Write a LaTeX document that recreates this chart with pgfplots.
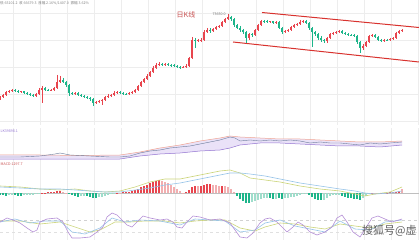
\documentclass[border=0pt]{standalone}
\usepackage{pgfplots}
\pgfplotsset{compat=1.18}
\usepackage{pgfplotstable}
\usepackage{fontspec}
\newfontfamily\cjk{Noto Sans CJK SC}
\definecolor{cred}{HTML}{E8454E}
\definecolor{cgreen}{HTML}{1DB58A}
\definecolor{cpink}{HTML}{F2AEB0}
\definecolor{clgreen}{HTML}{9FDDCB}
\definecolor{cchan}{HTML}{D8322E}
\definecolor{ctitle}{HTML}{C85050}
\definecolor{cyel}{HTML}{CBD47A}
\definecolor{cblue}{HTML}{98C4E8}
\definecolor{cpurp}{HTML}{B48FD6}
\definecolor{cband}{HTML}{EAE2F8}
\definecolor{cbandup}{HTML}{F0A694}
\definecolor{cbandlo}{HTML}{9577D2}
\definecolor{cmid}{HTML}{6F7F9E}

\pgfplotsset{
  panel/.style={scale only axis, width=419pt, xmin=0, xmax=419,
    axis line style={draw=none}, tick style={draw=none},
    xticklabels={}, yticklabels={}, xtick={13,40,...,419},
    grid=major, major grid style={draw=black!7, line width=0.3pt},
    anchor=north west},
  wick/.style={draw=none, mark=none, error bars/.cd, y dir=plus, y explicit,
    error mark=none, error bar style={draw=#1, line width=0.5pt}},
  body/.style={draw=none, mark=none, error bars/.cd, y dir=plus, y explicit,
    error mark=none, error bar style={draw=#1, line width=2pt}},
}

% candles: x open high low close (price given in screen rows, top = 0)
\pgfplotstableread{
x o h l c
0 99 96 100 97
3 97 94 98 95
6 95 91 96 92
9 92 90 93 91
12 91 89 92 90
21 92 91 93 91.5
36 96 93 97 94
39 94 88 95 90
42 90 86 103 88
51 90.5 89 91 90
54 90 87 91 88
57 88 75 89 82
60 82 76 83 80
75 94 92 95 93
96 103 101 104 102
99 102 100 103 101
102 101 99 105 100
105 100 96 101 97
108 97 94 98 96
111 96 94 97 95
114 95 91 96 93
117 93 91 94 92
129 94.5 92 95 93
132 93 91 94 92
135 92 89 93 90
138 90 85 91 86
141 86 81 87 82
144 82 78 83 79
147 79 74 80 76
150 76 71 77 72
153 72 66 73 68
156 68 63 69 65
159 65 62 66 64
165 65 63 66 64
183 67.5 66 68 67
186 67 64 68 66
189 66 57 67 58
192 58 37 59 40
198 41 39 42 40.5
201 40.5 38 42 40
204 40 30 41 32
207 32 28 33 30
213 31 28 32 29
216 29 26 30 27
219 27 25 28 26
222 26 21 27 22
225 22 18 23 19
228 19 14 20 17
249 38 33 40 34
255 35 29 36 30
258 30 24 31 25
261 25 20 26 21
270 22 21 23 21.5
276 23 21 24 22
285 32 30 33 31
288 31 29 32 30
291 30 26 31 27
294 27 24 28 25
297 25 23 26 24
300 24 20 25 22
303 22 20 23 21.5
327 41 37 43 38
330 38 33 39 34
333 34 32 35 33
336 33 31 34 32
339 32 30 33 31
363 48 44 50 46
366 46 41 47 42
369 42 35 43 36
372 36 34 37 35.5
384 41 39 42 40
390 40.5 38 41 39
393 39 37 40 38
396 38 32 39 33
399 33 30 34 31
402 31 29 32 30
}\upcandles

\pgfplotstableread{
x o h l c
15 90 89 92 91
18 91 90 93 92
24 91.5 91 94 93
27 93 92 95 94
30 94 93 96 95
33 95 94 97 96
45 88 87 91 90
48 90 89 91.5 90.5
63 80 78 83 82
66 82 81 87 85
69 85 84 96 93
72 93 92 95 94
78 93 92 96 95
81 95 94 97 96
84 96 95 98 97
87 97 96 99 98
90 98 97 101 99
93 99 98 106 103
120 92 91 94 93
123 93 92 95 94
126 94 93 95.5 94.5
162 64 63 66 65
168 64 63 66 65
171 65 64 67 65.5
174 65.5 64 67 66
177 66 65 68 67
180 67 66 69 67.5
195 40 38 48 41
210 30 28 33 31
231 17 16 21 19
234 19 18 27 25
237 25 24 29 28
240 28 26 32 30
243 30 29 34 32
246 32 31 43 38
252 34 33 37 35
264 21 20 23 21.5
267 21.5 20 23 22
273 21.5 21 24 23
279 22 21 29 28
282 28 27 34 32
306 21.5 20 24 23
309 23 22 30 28
312 28 27 47 32
315 32 31 36 34
318 34 33 40 38
321 38 36 42 40
324 40 39 43 41
342 31 30 34 33
345 33 32 35 34
348 34 33 36 35
351 35 34 36.5 35.5
354 35.5 34 37 36
357 36 35 44 42
360 42 41 53 48
375 35.5 34 38 37
378 37 36 41 40
381 40 39 42 41
387 40 39 41.5 40.5
}\dncandles

% MACD histogram, four kinds of bars
\pgfplotstableread{
x v
42 0.5
45 0.5
48 0.8
51 1
54 1.5
57 2
60 2
117 0.5
123 0.8
126 1
129 1.5
132 2
135 3
138 4.5
141 6
144 7
147 8
150 9.5
153 11
156 12
159 12.5
186 1
189 3
192 6
195 7
201 7
204 8
207 8.5
210 8.5
222 7
372 0.5
381 0.5
387 0.5
390 1
393 1
396 1.5
399 2.5
}\histred
\pgfplotstableread{
x v
63 1.5
66 0.5
120 0.5
162 12
165 11
168 10
171 8
174 6
177 4
180 2
183 0.5
198 7
213 8
216 7.5
219 7
225 6.5
228 6
231 4
234 1
375 0.5
378 0.3
384 0.3
402 4
}\histpink
\pgfplotstableread{
x v
0 -2
3 -2
6 -2.5
15 -2
18 -2.5
21 -2.5
69 -1
72 -2
75 -3
78 -3.5
87 -3
90 -3.5
93 -4.5
96 -4.5
237 -3
240 -6
243 -8
246 -10
249 -10
270 -5
273 -6
279 -5
282 -5.5
309 -2
312 -4
315 -6
318 -7
321 -7
342 -2.5
345 -3.5
348 -4.5
351 -5
354 -5.5
357 -6
360 -6.5
}\histgreen
\pgfplotstableread{
x v
9 -2
12 -2
24 -2
27 -2
30 -1.5
33 -1.5
36 -1
39 -0.5
81 -3
84 -2.5
99 -4
102 -3.5
105 -2.5
108 -1.5
111 -1
114 -0.5
252 -9
255 -8
258 -7
261 -6
264 -5
267 -4.5
276 -5.5
285 -5
288 -4.5
291 -4
294 -3.5
297 -3
300 -2
303 -1
306 -1
324 -6.5
327 -5
330 -3
333 -2
336 -1.5
339 -1.5
363 -5
366 -3
369 -1
}\histlgreen

\begin{document}
\begin{tikzpicture}
\useasboundingbox (0,0) rectangle (419pt,240pt);

% ---------------- main candlestick panel ----------------
\begin{axis}[panel, at={(0pt,240pt)}, height=125pt, ymin=0, ymax=125, y dir=reverse,
  ytick={13,40,67,94,121}]
\addplot[cchan, line width=1pt] coordinates {(262,12.5) (419,27.5)};
\addplot[cchan, line width=1pt] coordinates {(233,42) (419,62)};
\addplot[wick=cred] table[x=x, y=h, y error expr=\thisrow{l}-\thisrow{h}] {\upcandles};
\addplot[wick=cgreen] table[x=x, y=h, y error expr=\thisrow{l}-\thisrow{h}] {\dncandles};
\addplot[body=cred] table[x=x, y=c, y error expr=\thisrow{o}-\thisrow{c}] {\upcandles};
\addplot[body=cgreen] table[x=x, y=o, y error expr=\thisrow{c}-\thisrow{o}] {\dncandles};
\node[text=ctitle, font=\cjk\fontsize{7}{8}\selectfont] at (axis cs:186,15) {日K线};
\node[text=black!55, font=\cjk\fontsize{3.6}{4}\selectfont] at (axis cs:219,14.3) {73650.0};
\node[anchor=west, inner sep=0pt, text=black!50, font=\cjk\fontsize{3.6}{4}\selectfont] at (axis cs:0,3)
  {低 65101.2\ \ 收 66679.3\ \ 涨幅 2.16\%/1407.0\ \ 振幅 3.62\%};
\end{axis}

% ---------------- panel 2 (band indicator) ----------------
\begin{axis}[panel, at={(0pt,112pt)}, height=34pt, ymin=128, ymax=162, y dir=reverse, ytick=\empty]
\addplot[fill=cband, draw=none] coordinates {
(0,155) (40,155) (80,155.5) (120,155) (140,152) (160,148) (180,145) (200,141) (220,138) (230,136)
(240,137) (260,138) (280,139) (300,139) (320,140) (340,141) (360,142) (380,142) (402,141)
(402,145) (380,147) (360,146) (340,146) (320,145) (300,144) (280,143) (260,143) (240,145) (230,148)
(220,150) (200,151) (180,153) (160,154) (140,156) (120,159) (80,159) (40,159) (0,159)} -- cycle;
\addplot[cbandup, line width=0.5pt] coordinates {
(0,155) (40,155) (80,155.5) (120,155) (140,152) (160,148) (180,145) (200,141) (220,138) (230,136)
(240,137) (260,138) (280,139) (300,139) (320,140) (340,141) (360,142) (380,142) (402,141)};
\addplot[cbandlo, line width=0.5pt] coordinates {
(0,159) (40,159) (80,159) (120,159) (140,156) (160,154) (180,153) (200,151) (220,150) (230,148)
(240,145) (260,143) (280,143) (300,144) (320,145) (340,146) (360,146) (380,147) (402,145)};
\addplot[cmid, line width=0.4pt] coordinates {
(0,157) (20,157) (40,156) (55,154) (60,153) (70,155) (90,156) (110,157) (120,157) (130,156)
(140,153) (150,151) (160,150) (170,148) (180,147) (190,146) (200,144) (210,142) (220,140) (230,137)
(235,138) (240,141) (250,140) (260,141) (270,140) (280,141) (290,140) (300,141) (310,143) (320,142)
(330,143) (340,143) (350,144) (360,145) (370,143) (380,144) (390,143) (402,142)};
\node[anchor=west, inner sep=0pt, text=cbandlo, font=\cjk\fontsize{3.6}{4}\selectfont] at (axis cs:0.5,131) {LK39898.1};
\end{axis}

% ---------------- panel 3 (MACD) ----------------
\begin{axis}[panel, at={(0pt,78pt)}, height=48pt, ymin=-17, ymax=31, ytick=\empty]
\addplot[black!25, line width=0.3pt] coordinates {(0,0) (419,0)};
\addplot[ycomb, cred, line width=2pt] table[x=x, y=v] {\histred};
\addplot[ycomb, cpink, line width=2pt] table[x=x, y=v] {\histpink};
\addplot[ycomb, cgreen, line width=2pt] table[x=x, y=v] {\histgreen};
\addplot[ycomb, clgreen, line width=2pt] table[x=x, y=v] {\histlgreen};
\addplot[cyel, line width=0.6pt] coordinates {
(0,7) (20,6) (40,4) (60,3) (75,4) (90,2) (105,1) (120,2) (135,6) (150,11) (165,14) (180,14) (190,16)
(200,18) (210,20) (220,22) (230,23) (240,20) (250,15) (265,13) (280,11) (300,7) (320,4) (340,2)
(355,-1) (365,-3) (375,-1) (390,1) (402,6)};
\addplot[cblue, line width=0.6pt] coordinates {
(0,6) (20,5) (40,4) (60,4) (75,3) (90,2) (105,1) (120,1) (135,3) (150,5) (165,8) (180,10) (190,12)
(200,14) (210,16) (220,18) (230,20) (240,20) (250,19) (265,17) (280,14) (300,10) (320,7) (340,4)
(355,2) (365,0) (375,-1) (390,0) (402,2)};
\node[anchor=west, inner sep=0pt, text=ctitle, font=\cjk\fontsize{3.6}{4}\selectfont] at (axis cs:0.5,29) {MACD:1297.7};
\end{axis}

% ---------------- panel 4 (KDJ) ----------------
\begin{axis}[panel, at={(0pt,30pt)}, height=30pt, ymin=210, ymax=240, y dir=reverse, ytick=\empty]
\addplot[black!18, dashed, line width=0.3pt] coordinates {(0,220) (419,220)};
\addplot[black!12, dashed, line width=0.3pt] coordinates {(0,232) (419,232)};
\addplot[cyel, line width=0.6pt] coordinates {
(0,221) (20,221) (40,224) (60,222) (75,227) (90,232) (100,230) (115,222) (130,222) (145,221) (165,221)
(180,223) (195,221) (210,220) (225,220) (240,228) (255,231) (265,227) (280,223) (295,224) (310,227)
(325,229) (340,224) (355,226) (370,228) (385,224) (402,222)};
\addplot[cblue, line width=0.6pt] coordinates {
(0,222) (15,219) (30,223) (45,221) (60,221) (72,232) (85,234) (100,228) (112,218) (125,222) (140,220)
(160,221) (180,225) (195,219) (210,220) (225,221) (240,232) (255,230) (265,223) (280,220) (295,226)
(310,229) (325,232) (340,221) (355,229) (370,230) (385,222) (402,220)};
\addplot[cpurp, line width=0.6pt] coordinates {
(0,222) (7,218) (13,220) (20,223) (27,228) (33,232) (37,230) (40,222) (47,219) (57,218) (63,222)
(68,232) (72,238) (80,238) (90,237) (97,232) (103,227) (107,217) (112,213) (117,215) (122,220)
(127,225) (132,227) (137,222) (143,216) (150,218) (160,220) (167,219) (173,222) (177,227) (182,228)
(187,222) (193,216) (200,217) (210,220) (220,219) (230,223) (235,230) (240,237) (247,238) (253,233)
(260,223) (265,219) (270,218) (277,222) (282,227) (287,232) (293,227) (298,222) (303,225) (310,232)
(317,235) (325,232) (332,227) (337,218) (342,215) (347,222) (353,232) (360,237) (367,226) (372,218)
(378,216) (385,219) (392,222) (402,219)};
\end{axis}

\node[anchor=base west, inner sep=0pt, text=black!62, font=\cjk\fontsize{11}{11}\selectfont] at (362pt,5pt) {搜狐号@虚};
\end{tikzpicture}
\end{document}
